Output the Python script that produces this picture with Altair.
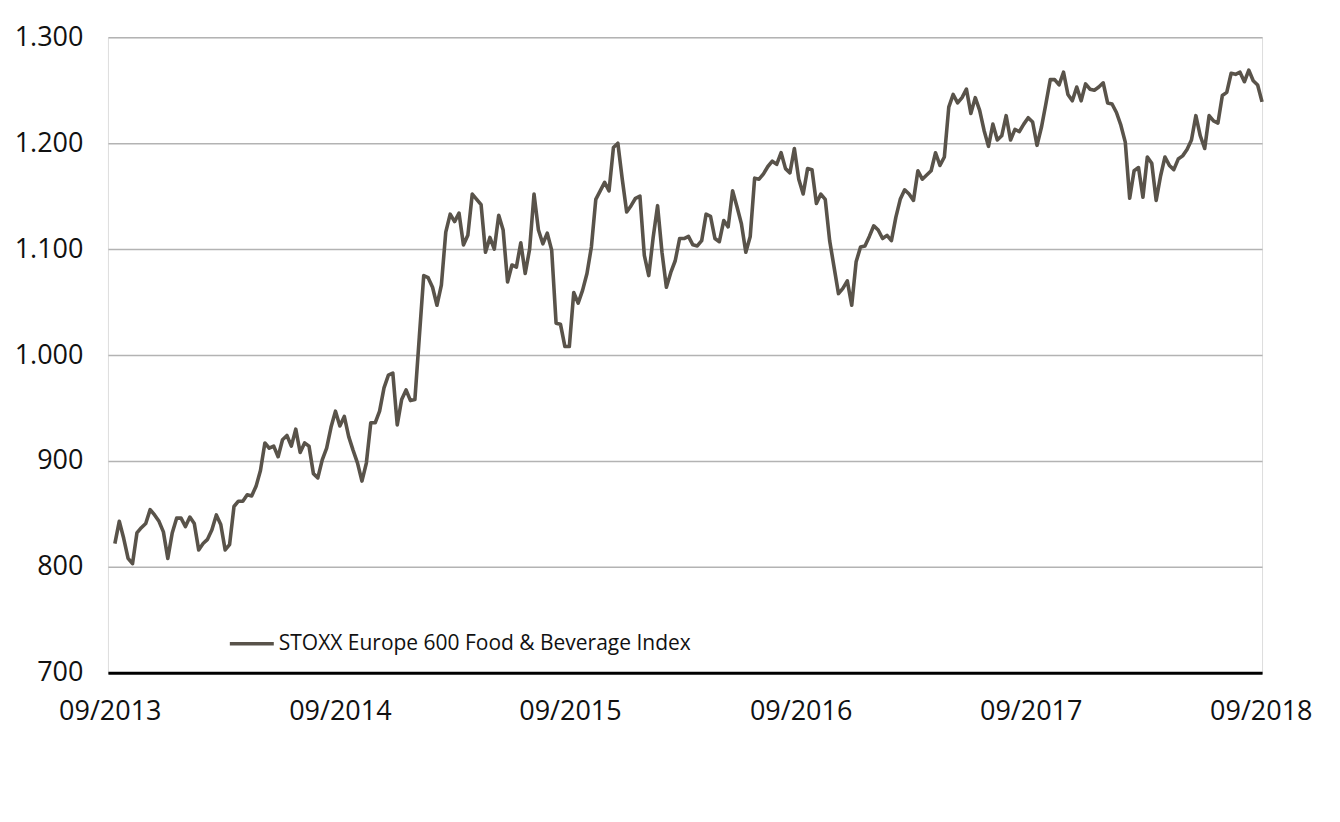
import altair as alt
import pandas as pd

series_name = "STOXX Europe 600 Food & Beverage Index"
start_date = "2013-09-09"
values = [
    822, 843, 827, 808, 803, 832, 837, 841, 854, 849, 843, 833, 808, 832, 846, 846,
    838, 847, 841, 816, 822, 826, 835, 849, 840, 816, 821, 857, 862, 862, 868, 867,
    876, 891, 917, 912, 914, 904, 920, 924, 914, 930, 908, 917, 914, 888, 884, 901,
    912, 932, 947, 933, 942, 923, 910, 898, 881, 898, 936, 936, 947, 969, 981, 983,
    934, 958, 967, 957, 958, 1017, 1075, 1073, 1064, 1047, 1066, 1116, 1133, 1126, 1134, 1104,
    1113, 1152, 1147, 1142, 1097, 1111, 1100, 1132, 1118, 1069, 1085, 1083, 1106, 1077, 1100, 1152,
    1118, 1105, 1115, 1099, 1030, 1029, 1008, 1008, 1059, 1049, 1061, 1077, 1102, 1147, 1155, 1163,
    1155, 1196, 1200, 1166, 1135, 1141, 1148, 1150, 1094, 1075, 1111, 1141, 1097, 1064, 1078, 1089,
    1110, 1110, 1112, 1104, 1103, 1108, 1133, 1131, 1110, 1107, 1127, 1121, 1155, 1140, 1124, 1097,
    1112, 1167, 1166, 1171, 1178, 1183, 1180, 1191, 1176, 1172, 1195, 1166, 1152, 1176, 1175, 1143,
    1152, 1147, 1108, 1083, 1058, 1063, 1070, 1047, 1088, 1102, 1103, 1112, 1122, 1118, 1110, 1113,
    1108, 1130, 1147, 1156, 1152, 1146, 1174, 1166, 1170, 1174, 1191, 1179, 1187, 1234, 1246, 1238,
    1243, 1251, 1228, 1243, 1231, 1212, 1197, 1218, 1203, 1207, 1226, 1203, 1213, 1211, 1218, 1224,
    1220, 1198, 1215, 1237, 1260, 1260, 1255, 1267, 1246, 1240, 1253, 1240, 1256, 1251, 1250, 1253,
    1257, 1238, 1237, 1229, 1217, 1201, 1148, 1174, 1177, 1149, 1187, 1181, 1146, 1169, 1187, 1179,
    1175, 1185, 1188, 1194, 1203, 1226, 1207, 1195, 1226, 1221, 1219, 1245, 1248, 1266, 1265, 1267,
    1258, 1269, 1259, 1255, 1239,
]
y_ticks = [700, 800, 900, 1000, 1100, 1200, 1300]
x_tick_years = [2013, 2014, 2015, 2016, 2017, 2018]

dates = pd.date_range(start_date, periods=len(values), freq="7D")
df = pd.DataFrame({"date": dates, "value": values, "series": series_name})

FONT = "Open Sans"
LINE_COLOR = "#59534a"
TEXT_COLOR = "#111111"

chart = (
    alt.Chart(df)
    .mark_line(strokeWidth=3.6, strokeJoin="round")
    .encode(
        x=alt.X(
            "date:T",
            scale=alt.Scale(
                domain=[
                    alt.DateTime(year=2013, month=8, date=29),
                    alt.DateTime(year=2018, month=9, date=3),
                ]
            ),
            axis=alt.Axis(
                title=None,
                values=[alt.DateTime(year=y, month=9, date=1) for y in x_tick_years],
                format="%m/%Y",
                grid=False,
                ticks=False,
                domain=True,
                domainColor="#000000",
                domainWidth=3,
                labelPadding=26,
                labelFontSize=27,
                labelColor=TEXT_COLOR,
                labelFont=FONT,
                labelFlush=False,
            ),
        ),
        y=alt.Y(
            "value:Q",
            scale=alt.Scale(domain=[700, 1300], nice=False, zero=False),
            axis=alt.Axis(
                title=None,
                values=y_ticks,
                labelExpr="replace(format(datum.value, ',d'), ',', '.')",
                grid=True,
                gridColor="#b3b3b3",
                gridWidth=1.5,
                ticks=False,
                domain=False,
                labelPadding=25,
                labelFontSize=27,
                labelColor=TEXT_COLOR,
                labelFont=FONT,
            ),
        ),
        color=alt.Color(
            "series:N",
            scale=alt.Scale(range=[LINE_COLOR]),
            legend=alt.Legend(
                title=None,
                orient="none",
                legendX=120,
                legendY=583,
                symbolType="stroke",
                symbolSize=1936,
                symbolStrokeWidth=3.6,
                labelFontSize=21,
                labelFont=FONT,
                labelColor=TEXT_COLOR,
                labelOffset=3,
                labelLimit=0,
                padding=0,
            ),
        ),
    )
    .properties(
        width=1155,
        height=636,
        autosize=alt.AutoSizeParams(type="none"),
        padding={"left": 100, "top": 29, "right": 70, "bottom": 100},
    )
    .configure_view(stroke=None)
    .configure(font=FONT)
)

chart.save("out.html", embed_options={"renderer": "svg", "actions": False})
